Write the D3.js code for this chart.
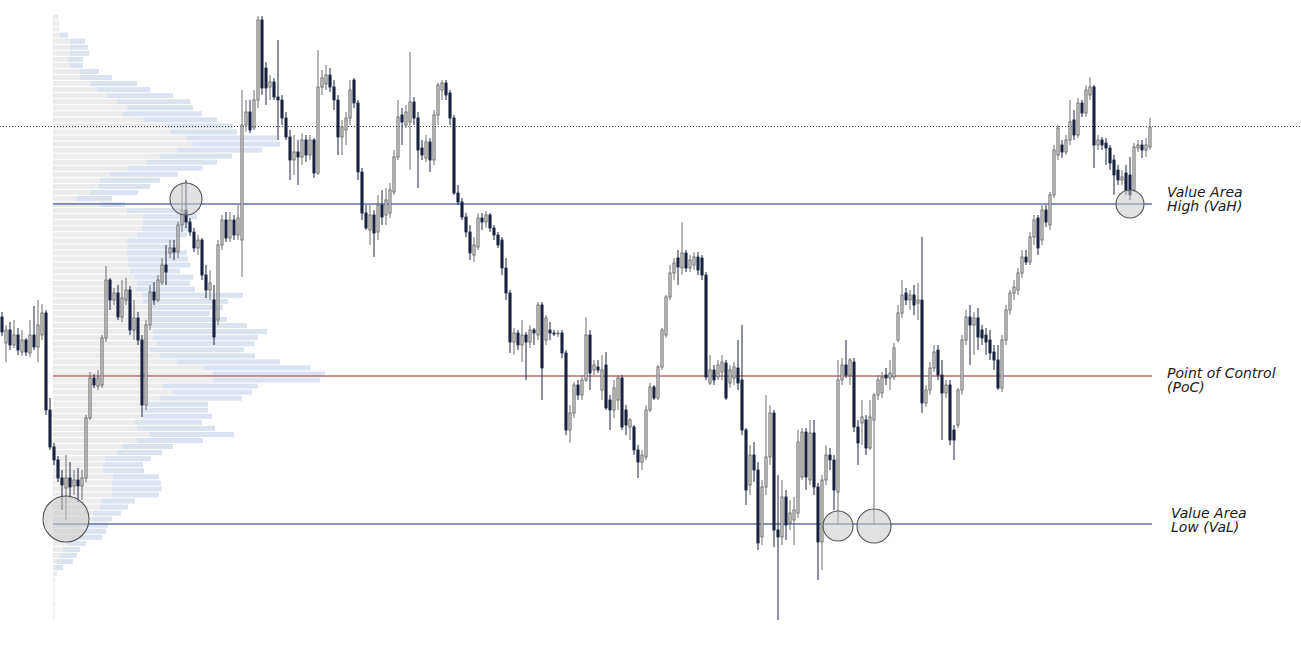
<!DOCTYPE html>
<html><head><meta charset="utf-8">
<script src="https://cdn.jsdelivr.net/npm/d3@7"></script>
<style>html,body{margin:0;padding:0;background:#fff}svg{display:block}</style>
</head><body><svg id="c" width="1301" height="649"></svg>
<script>
// ---- candle data (price units) ----
const open=[333,307,320,305,315,298,310,297,315,303,
315,337,240,203,190,172,162,172,164,170,
164,172,232,272,264,265,312,370,350,357,
333,350,360,320,332,310,245,325,358,350,
368,385,397,402,398,425,440,428,418,402,
410,375,360,350,330,405,430,412,430,415,
410,525,538,522,550,630,582,563,568,553,
550,532,513,490,498,493,510,495,510,477,
563,566,575,563,550,513,520,532,570,547,
478,437,420,435,418,445,435,437,458,493,
535,525,528,548,532,502,492,508,490,535,
560,567,557,532,457,448,433,418,395,403,
432,428,435,422,415,410,382,357,308,317,
305,315,308,320,315,345,310,320,317,316,
317,297,220,237,265,255,270,315,280,283,
260,285,250,240,250,272,240,223,223,200,
188,193,240,263,252,283,315,353,377,392,
382,397,382,385,393,392,375,267,280,273,
278,287,267,272,282,270,220,165,195,180,
113,163,193,237,120,113,153,127,130,137,
173,218,170,217,163,108,170,195,190,158,
270,285,275,288,223,227,230,202,230,255,
257,275,272,273,310,337,357,350,355,347,
350,247,260,282,300,275,257,265,220,225,
260,310,333,325,332,320,315,310,298,290,
262,310,340,357,360,377,393,388,413,432,
410,440,425,455,495,505,498,510,530,515,
547,537,555,563,505,510,507,502,490,480,
470,477,475,460,502,505,500,503];
const close=[318,320,305,315,300,310,298,315,303,325,
337,240,203,190,172,165,172,163,170,164,
172,232,272,265,272,312,370,350,357,333,
352,360,320,332,310,245,325,358,350,370,
385,378,402,398,425,440,428,418,402,410,
375,360,367,313,405,430,412,430,415,432,
525,538,520,550,630,562,562,568,553,550,
532,513,490,498,493,510,495,510,477,563,
572,575,563,550,513,523,532,560,547,478,
437,422,435,417,445,433,450,460,493,533,
528,538,548,532,500,495,508,490,535,565,
567,555,532,457,448,433,418,397,405,432,
428,435,422,415,405,382,357,308,317,305,
315,308,320,317,345,282,332,317,316,317,
297,220,237,265,255,270,315,277,285,280,
280,242,240,262,272,223,225,230,200,188,
195,240,263,252,283,320,353,377,387,383,
397,382,390,393,380,375,273,280,270,285,
288,252,280,283,267,220,160,195,180,107,
163,193,237,120,113,153,125,137,140,208,
218,173,217,163,108,170,195,190,160,270,
285,275,290,223,207,233,202,233,255,270,
273,272,277,302,337,355,350,355,345,350,
247,260,282,298,275,257,265,210,210,260,
310,333,325,332,313,312,308,297,290,262,
310,340,357,363,377,393,388,413,430,402,
440,428,455,500,522,498,510,528,515,547,
537,560,563,505,510,505,502,487,475,470,
473,460,455,503,505,500,505,523];
const high=[338,325,328,330,322,320,312,330,344,350,
346,340,252,207,194,180,195,188,180,182,
180,235,278,276,280,315,384,372,362,365,
370,372,364,350,338,315,330,365,368,375,
392,405,410,410,428,467,470,432,422,415,
412,385,380,365,410,435,438,438,435,445,
560,550,550,560,634,634,588,575,572,610,
555,538,520,515,510,517,515,515,512,600,
580,585,582,570,555,530,538,570,572,550,
482,445,445,440,455,460,462,467,500,550,
542,545,598,553,538,510,515,512,540,567,
570,570,560,535,465,452,437,425,413,437,
437,439,437,425,418,413,392,360,322,320,
330,318,325,322,348,348,335,328,320,320,
320,300,245,268,270,275,333,320,290,290,
295,298,255,270,275,275,245,232,225,205,
200,245,267,265,285,322,355,385,392,400,
428,400,395,398,398,395,378,295,285,290,
295,290,285,288,310,325,222,205,208,188,
170,255,245,240,175,170,160,150,153,220,
222,222,230,230,167,175,205,202,195,290,
292,310,292,292,230,250,235,250,257,275,
278,282,290,307,345,370,362,360,365,367,
413,265,288,305,305,290,270,270,225,262,
315,340,345,338,342,325,322,320,305,305,
315,345,360,370,382,400,400,418,435,435,
445,445,458,505,525,510,515,550,540,552,
550,565,573,565,515,513,512,505,495,485,
480,485,493,507,510,510,512,532];
const low=[314,288,300,302,295,294,294,293,300,288,
310,235,200,185,168,140,130,152,155,148,
150,168,230,262,260,262,308,340,345,330,
328,345,315,310,305,233,240,320,345,348,
365,365,392,390,392,418,422,414,398,395,
370,352,350,305,325,400,408,408,410,410,
373,518,517,520,542,555,545,550,550,510,
525,510,470,475,465,485,488,490,472,475,
555,560,558,540,495,495,505,525,542,470,
430,420,405,393,410,425,425,432,455,490,
505,522,480,525,462,490,488,478,485,525,
550,550,525,455,445,430,413,390,388,400,
420,422,418,410,402,375,350,297,295,300,
288,270,302,305,310,250,305,310,314,313,
292,215,207,232,250,250,268,260,275,277,
250,240,220,232,240,220,215,210,195,172,
180,190,238,250,250,280,312,350,370,365,
375,378,378,380,375,370,270,265,265,270,
270,250,262,265,260,215,145,155,168,100,
105,155,185,103,30,105,110,120,105,132,
170,160,165,155,70,80,165,180,140,125,
265,272,265,218,185,205,195,200,125,250,
252,265,260,270,308,332,345,340,335,330,
237,243,255,278,270,210,252,205,190,222,
255,305,285,295,300,305,295,290,280,260,
258,305,335,350,355,372,385,385,405,395,
405,423,420,452,490,492,495,505,510,512,
533,533,550,482,500,500,485,480,455,465,
465,455,450,458,498,492,493,500];

// ---- volume profile ----
const profileLevels=[633.00,626.95,620.90,614.85,608.80,602.75,596.70,590.65,584.60,578.55,
572.50,566.45,560.40,554.35,548.30,542.25,536.20,530.15,524.10,518.05,
512.00,505.95,499.90,493.85,487.80,481.75,475.70,469.65,463.60,457.55,
451.50,445.45,439.40,433.35,427.30,421.25,415.20,409.15,403.10,397.05,
391.00,384.95,378.90,372.85,366.80,360.75,354.70,348.65,342.60,336.55,
330.50,324.45,318.40,312.35,306.30,300.25,294.20,288.15,282.10,276.05,
270.00,263.95,257.90,251.85,245.80,239.75,233.70,227.65,221.60,215.55,
209.50,203.45,197.40,191.35,185.30,179.25,173.20,167.15,161.10,155.05,
149.00,142.95,136.90,130.85,124.80,118.75,112.70,106.65,100.60,94.55,
88.50,82.45,76.40,70.35,64.30,58.25,52.20,46.15,40.10,34.05];
const volOutside=[4,6,6,7,17,17,17,15,17,27,
27,37,44,54,64,74,70,90,114,117,
134,140,124,107,94,74,57,47,45,37,
24,47,74,90,90,89,84,74,75,74,
75,75,77,82,84,82,89,90,97,97,
97,97,100,100,104,97,107,124,150,160,
160,110,120,107,94,90,90,82,84,97,
84,70,64,52,50,50,60,59,59,59,
49,47,40,39,34,30,25,14,10,7,
4,2,4,2,1.5,1.5,1.5,1.5,1.5,1.5];
const volSession=[1,0,0,8,15,18,19,15,13,19,
32,47,53,66,73,66,79,74,66,67,
90,87,85,72,70,76,68,60,52,48,
35,25,56,54,47,50,50,50,52,60,
60,62,50,58,53,60,101,85,73,60,
77,97,114,105,97,94,95,103,107,112,
107,95,79,82,61,65,69,67,78,84,
66,50,45,46,40,41,46,49,50,47,
33,28,28,20,21,23,24,19,17,17,
16,8,0,0,0,0,0,0,0,0];

// ---- key levels and markers ----
const refPrice=524;      // dotted line
const vahPrice=446;      // Value Area High
const pocPrice=274;      // Point of Control
const valPrice=126;      // Value Area Low
const markerIndex=[16,46,209,218,282];
const markerPrice=[131,451,124,124,446];
const labelLines=[["Value Area","High (VaH)"],["Point of Control","(PoC)"],["Value Area","Low (VaL)"]];
const labelPrices=[vahPrice,pocPrice,valPrice];

// ---- drawing ----
const W=1301,H=649;
const svg=d3.select('#c');
svg.append('rect').attr('width',W).attr('height',H).attr('fill','#fff');

const x=d3.scaleBand().domain(d3.range(open.length)).range([0,1152]).paddingInner(0.25).paddingOuter(0.125);
const y=d3.scaleLinear().domain([0,650]).range([650,0]);
const vx=d3.scaleLinear().domain([0,300]).range([53,353]);
const bw=x.bandwidth();
const cx=i=>x(i)+bw/2;

// profile
const prof=svg.append('g');
const rowH=5;
prof.selectAll('rect.o').data(profileLevels).join('rect')
  .attr('x',vx(0)).attr('y',d=>y(d)-rowH/2)
  .attr('width',(d,i)=>vx(volOutside[i])-vx(0)).attr('height',rowH)
  .attr('fill','#ececec');
prof.selectAll('rect.s').data(profileLevels).join('rect')
  .attr('x',(d,i)=>vx(volOutside[i])).attr('y',d=>y(d)-rowH/2)
  .attr('width',(d,i)=>vx(volOutside[i]+volSession[i])-vx(volOutside[i])).attr('height',rowH)
  .attr('fill','#dbe2f0');

// dotted reference line
svg.append('line').attr('x1',0).attr('x2',W).attr('y1',Math.round(y(refPrice))+0.5).attr('y2',Math.round(y(refPrice))+0.5)
  .attr('stroke','#444').attr('stroke-width',1).attr('stroke-dasharray','1,2');

// horizontal levels
const lv=[[vahPrice,'#5d74a8'],[pocPrice,'#b07474'],[valPrice,'#5d74a8']];
svg.selectAll('line.lv').data(lv).join('line')
  .attr('x1',vx(0)).attr('x2',1152)
  .attr('y1',d=>y(d[0])).attr('y2',d=>y(d[0]))
  .attr('stroke',d=>d[1]).attr('stroke-width',1.3);

// candles
const idx=d3.range(open.length);
const up=i=>close[i]>=open[i];
const cg=svg.append('g');
cg.selectAll('line.w').data(idx).join('line')
  .attr('x1',i=>cx(i)).attr('x2',i=>cx(i))
  .attr('y1',i=>y(high[i])).attr('y2',i=>y(low[i]))
  .attr('stroke',i=>up(i)?'#6f6f6f':'#1b2342').attr('stroke-width',1);
cg.selectAll('rect.b').data(idx).join('rect')
  .attr('x',i=>x(i)+0.4).attr('width',bw-0.8)
  .attr('y',i=>y(Math.max(open[i],close[i])))
  .attr('height',i=>Math.max(1,Math.abs(y(open[i])-y(close[i]))))
  .attr('fill',i=>up(i)?'#d2d2d2':'#1b2342')
  .attr('stroke',i=>up(i)?'#5e5e5e':'#1b2342').attr('stroke-width',0.8);

// markers
const markerR=[23,16,15,17,14];
svg.selectAll('circle.m').data(markerIndex).join('circle')
  .attr('cx',d=>cx(d)).attr('cy',(d,i)=>y(markerPrice[i])).attr('r',(d,i)=>markerR[i])
  .attr('fill','rgba(200,200,200,0.55)').attr('stroke','#555').attr('stroke-width',1.1);

// labels
const lx=[1167,1167,1171];
const ldy=[-7,2,-6];
labelLines.forEach((lines,k)=>{
  const t=svg.append('text').attr('x',lx[k]).attr('y',y(labelPrices[k])+ldy[k])
    .attr('font-family','DejaVu Sans, Verdana, sans-serif').attr('font-style','italic')
    .attr('font-size',14).attr('fill','#1a1a1a');
  lines.forEach((s,j)=>t.append('tspan').attr('x',lx[k]).attr('dy',j?14:0).text(s));
});
</script></body></html>
